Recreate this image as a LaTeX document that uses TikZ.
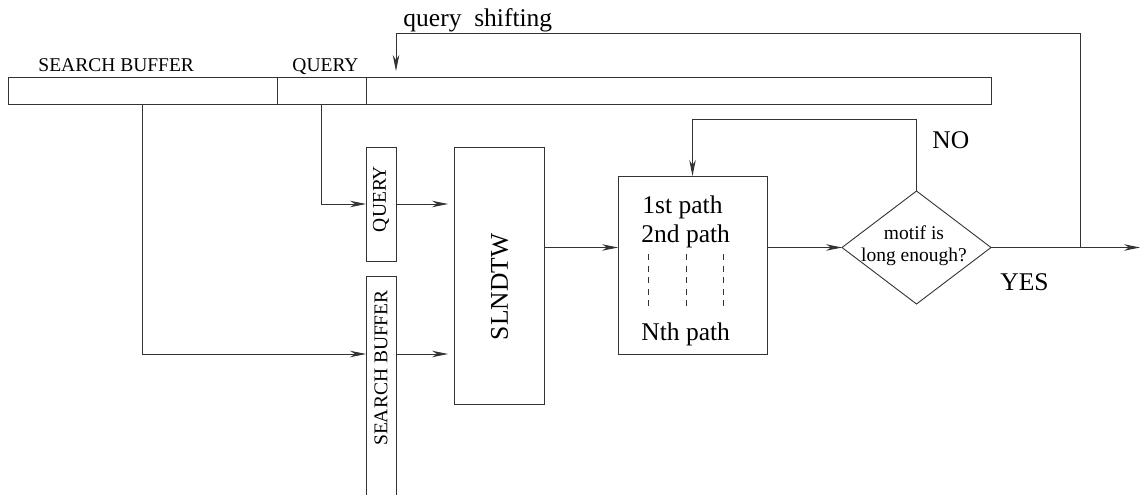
\documentclass[tikz,border=0pt]{standalone}
\usepackage{fontspec}
\setmainfont{Liberation Serif}
\usetikzlibrary{arrows.meta,shapes.geometric}
\begin{document}
\begin{tikzpicture}[x=1pt,y=-1pt,
  line width=0.9pt,
  box/.style={draw=black!80, line width=0.9pt, inner sep=0pt, outer sep=0pt},
  arr/.style={draw=black!80, -{Stealth[length=16pt,width=6.5pt,inset=5pt]}},
  bigtxt/.style={inner sep=0pt, font=\fontsize{25.5}{30}\selectfont},
  smalltxt/.style={inner sep=0pt, font=\fontsize{19.5}{23}\selectfont},
  dashln/.style={draw=black!80, dash pattern=on 6pt off 5.5pt, line width=0.8pt}]
\useasboundingbox (0,0) rectangle (1143,495);
\clip (0,0) rectangle (1143,495);
% top bar
\node[box, minimum width=269pt, minimum height=27.5pt] (sbbar) at (142.5,90.75) {};
\node[box, minimum width=89pt, minimum height=27.5pt] (qbar) at (321.5,90.75) {};
\node[box, minimum width=625pt, minimum height=27.5pt] (restbar) at (678.5,90.75) {};
\node[smalltxt, anchor=base west] (lsb) at (38,71) {SEARCH BUFFER};
\node[smalltxt, anchor=base west] (lq) at (292,71) {QUERY};
\node[bigtxt, anchor=base west] (lshift) at (403,27) {query\ \ shifting};
% vertical boxes
\node[box, minimum width=30pt, minimum height=114pt] (qbox) at (381,204) {};
\node[smalltxt, rotate=90] (qboxt) at (381,199) {QUERY};
\node[box, minimum width=30pt, minimum height=234pt] (sbbox) at (381,393) {};
\node[smalltxt, rotate=90] (sbboxt) at (381,368) {SEARCH BUFFER};
\node[box, minimum width=90pt, minimum height=257pt] (dtw) at (499,275.5) {};
\node[bigtxt, rotate=90] (dtwt) at (499.5,287) {SLNDTW};
% paths box
\node[box, minimum width=149pt, minimum height=178pt] (paths) at (692.5,265) {};
\node[bigtxt, anchor=base west] (p1) at (642,213) {1st path};
\node[bigtxt, anchor=base west] (p2) at (641,242) {2nd path};
\node[bigtxt, anchor=base west] (pn) at (641,340) {Nth path};
\coordinate (d1a) at (648,254); \coordinate (d1b) at (648,306);
\coordinate (d2a) at (686,254); \coordinate (d2b) at (686,306);
\coordinate (d3a) at (723,254); \coordinate (d3b) at (723,306);
\draw[dashln] (d1a) -- (d1b);
\draw[dashln] (d2a) -- (d2b);
\draw[dashln] (d3a) -- (d3b);
% diamond
\node[box, shape=diamond, minimum width=149pt, minimum height=113pt] (dia) at (916.5,247.5) {};
\node[smalltxt, align=center, font=\fontsize{19.5}{21.5}\selectfont] (diat) at (914,245.5) {motif is\\long enough?};
\node[bigtxt, anchor=base west] (lno) at (932,148) {NO};
\node[bigtxt, anchor=base west] (lyes) at (1000,290) {YES};
% coordinates
\coordinate (sbin) at (366,354);
\coordinate (out) at (1140,247.5);
\coordinate (notop) at (916.5,119);
\coordinate (fb) at (1080,247.5);
\coordinate (fbtop) at (1080,33);
\coordinate (fbend) at (396,71);
% connectors
\draw[arr] (qbar.south) |- (qbox.west);
\draw[arr] (sbbar.south) |- (sbin);
\draw[arr, shorten >=6pt] (qbox.east) -- (qbox.east -| dtw.west);
\draw[arr, shorten >=6pt] (sbin -| sbbox.east) -- (sbin -| dtw.west);
\draw[arr] (dtw.east |- dia.west) -- (paths.west |- dia.west);
\draw[arr] (paths.east |- dia.west) -- (dia.west);
\draw[arr] (dia.east) -- (out);
\draw[arr] (dia.north) -- (notop) -| (paths.north);
\draw[arr] (fb) -- (fbtop) -| (fbend);
\end{tikzpicture}
\end{document}
